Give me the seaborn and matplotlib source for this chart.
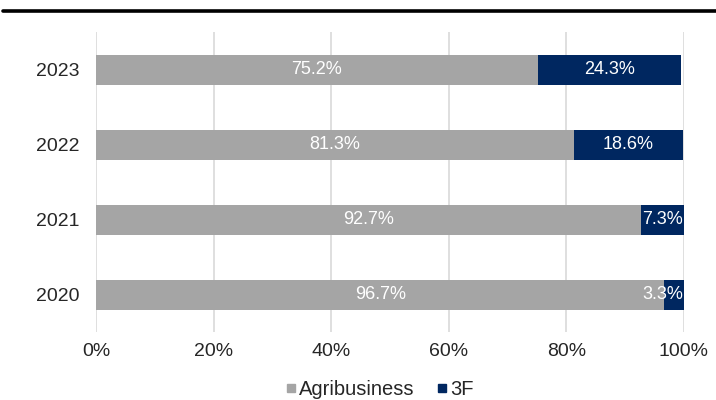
import matplotlib
matplotlib.use("Agg")
import matplotlib.pyplot as plt
from matplotlib.lines import Line2D
import seaborn as sns
import pandas as pd

years = ["2023", "2022", "2021", "2020"]
agribusiness = [75.2, 81.3, 92.7, 96.7]
three_f = [24.3, 18.6, 7.3, 3.3]
series_names = ["Agribusiness", "3F"]
x_ticks = [0, 20, 40, 60, 80, 100]
x_tick_labels = ["0%", "20%", "40%", "60%", "80%", "100%"]

GRAY = "#A5A5A5"
NAVY = "#002760"
GRID = "#D9D9D9"

sns.set_theme(style="white")
plt.rcParams["font.family"] = ["Liberation Sans", "DejaVu Sans"]

df = pd.DataFrame({"year": years, "agri": agribusiness, "f3": three_f})
df["total"] = df["agri"] + df["f3"]

fig = plt.figure(figsize=(7.16, 4.0), dpi=100)
ax = fig.add_axes([0.134, 0.17, 0.821, 0.75])

# stacked bars: draw the total first, then the base series on top
sns.barplot(data=df, y="year", x="total", color=NAVY, orient="h",
            width=0.4, ax=ax, saturation=1, zorder=3, linewidth=0)
sns.barplot(data=df, y="year", x="agri", color=GRAY, orient="h",
            width=0.4, ax=ax, saturation=1, zorder=3, linewidth=0)

ax.set_xlim(0, 100)
ax.set_ylim(3.5, -0.5)

labels = []
for i, (a, f) in enumerate(zip(agribusiness, three_f)):
    ax.text(a / 2, i, f"{a:.1f}%", ha="center", va="center",
            color="white", fontsize=13, zorder=4)
    t = ax.text(a + f / 2, i, f"{f:.1f}%", ha="center", va="center",
                color="white", fontsize=13, zorder=4)
    labels.append(t)

# keep narrow-segment labels inside the plot area
fig.canvas.draw()
renderer = fig.canvas.get_renderer()
ax_right = ax.get_window_extent(renderer).x1
for t in labels:
    bb = t.get_window_extent(renderer)
    if bb.x1 > ax_right - 1:
        t.set_ha("right")
        t.set_x(99.9)

ax.set_xticks(x_ticks)
ax.set_xticklabels(x_tick_labels, fontsize=14)
ax.tick_params(axis="y", labelsize=14, length=0, pad=12)
ax.tick_params(axis="x", length=0, pad=8)
ax.set_xlabel("")
ax.set_ylabel("")
ax.xaxis.grid(True, color=GRID, linewidth=1.2, zorder=0)
ax.yaxis.grid(False)
for s in ax.spines.values():
    s.set_visible(False)

handles = [Line2D([], [], marker="s", linestyle="", color=GRAY, markersize=6),
           Line2D([], [], marker="s", linestyle="", color=NAVY, markersize=6)]
fig.legend(handles, series_names, loc="center", bbox_to_anchor=(0.527, 0.027),
           ncol=2, frameon=False, fontsize=14.5, handletextpad=-0.1,
           columnspacing=0.9, handlelength=1.0, borderpad=0)

# heavy rule across the top
fig.add_artist(Line2D([0.004, 1.0], [0.9725, 0.9725], color="black",
                      linewidth=2.6, transform=fig.transFigure))

fig.savefig("out.png", dpi=100)
